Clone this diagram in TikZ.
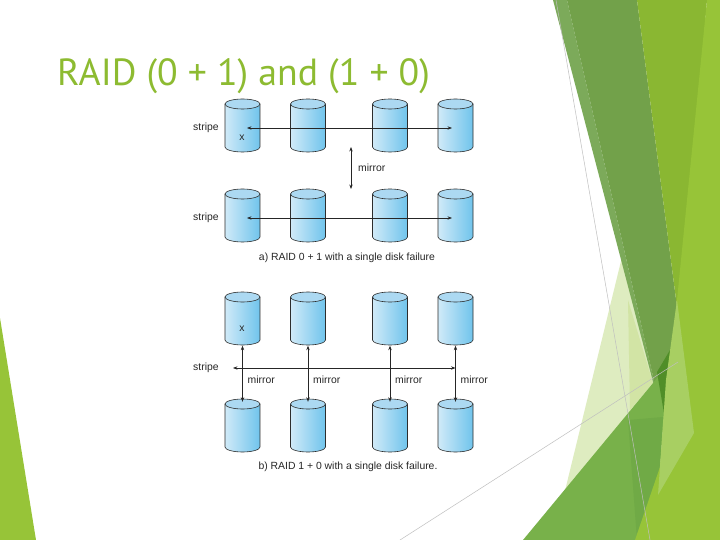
\documentclass[tikz,border=0pt]{standalone}
\usepackage{fontspec}
\setmainfont{Liberation Sans}
\newfontfamily\titlefont{PT Sans}
\usetikzlibrary{arrows.meta}

\definecolor{diskL}{RGB}{208,234,248}
\definecolor{diskR}{RGB}{112,196,236}
\definecolor{diskTop}{RGB}{172,217,242}
\definecolor{diskLine}{RGB}{45,45,45}
\definecolor{titlegreen}{RGB}{141,187,49}
\definecolor{facetDark}{RGB}{114,161,74}
\definecolor{facetStrip}{RGB}{124,170,90}
\definecolor{facetOlive}{RGB}{138,183,50}
\definecolor{facetLime}{RGB}{151,196,56}
\definecolor{facetLight}{RGB}{168,207,98}
\definecolor{facetPale}{RGB}{222,236,192}
\definecolor{facetPale2}{RGB}{210,228,165}
\definecolor{facetMid}{RGB}{120,177,74}
\definecolor{facetMid2}{RGB}{112,170,70}
\definecolor{facetDeep}{RGB}{80,142,40}

\begin{document}
\begin{tikzpicture}[x=1pt,y=-1pt,line cap=round,line join=round,
  disk/.style={minimum width=36,minimum height=54,inner sep=0,
    path picture={
      \begin{scope}[shift={(path picture bounding box.center)}]
        \shade[left color=diskL,right color=diskR] (-17.5,-21.5) -- (-17.5,21.5)
          arc[start angle=180,end angle=0,x radius=17.5,y radius=5] -- (17.5,-21.5) -- cycle;
        \draw[diskLine,line width=0.6pt] (-17.5,-21.5) -- (-17.5,21.5)
          arc[start angle=180,end angle=0,x radius=17.5,y radius=5] -- (17.5,-21.5);
        \filldraw[fill=diskTop,draw=diskLine,line width=0.6pt] (0,-21.5) ellipse[x radius=17.5,y radius=5];
      \end{scope}}},
  lbl/.style={font=\fontsize{10.4}{12}\selectfont,text=black!85,inner sep=0},
  link/.style={line width=0.7pt,draw=black!85,{Stealth[length=4.5pt,width=3.4pt]}-{Stealth[length=4.5pt,width=3.4pt]}}]
\useasboundingbox (0,0) rectangle (720,540);
\fill[white] (0,0) rectangle (720,540);

% facet background
\fill[facetPale] (622,257) -- (668,420) -- (600,540) -- (553,540) -- cycle;
\fill[facetPale2] (628,300) -- (653,383) -- (630,410) -- cycle;
\fill[facetStrip] (553,0) -- (567,0) -- (663,420) -- cycle;
\fill[facetDark] (567,0) -- (637,0) -- (680,330) -- (663,420) -- cycle;
\fill[facetOlive] (637,0) -- (707,0) -- (680,330) -- cycle;
\fill[facetMid] (523,540) -- (668,365) -- (660,467) -- (637,540) -- cycle;
\fill[facetMid2] (628,420) -- (663,417) -- (660,467) -- (645,540) -- (637,540) -- cycle;
\fill[facetDeep] (657,372) -- (676,340) -- (666,425) -- cycle;
\fill[facetLime] (707,0) -- (720,0) -- (720,540) -- (635,540) -- (660,467) -- (677,300) -- cycle;
\fill[facetLight] (677,300) -- (694,433) -- (658,495) -- (666,380) -- cycle;
\fill[facetLime] (0,318) -- (36,540) -- (0,540) -- cycle;
\draw[black!25,line width=0.5pt] (556,0) -- (650,540);
\draw[black!25,line width=0.5pt] (400,540) -- (678,362);

\node[anchor=base west,inner sep=0,text=titlegreen,font=\titlefont\fontsize{37.8}{42}\selectfont] (title) at (57,86) {RAID (0 + 1) and (1 + 0)};

% a) RAID 0 + 1
\foreach \n/\x in {1/242.5,2/308,3/390,4/455.5}{
  \node[disk] (a\n) at (\x,125.5) {};
  \node[disk] (a\the\numexpr\n+4\relax) at (\x,215.5) {};
}
\node[lbl,anchor=west] (sa1) at (193,128) {stripe};
\node[lbl,anchor=west] (sa2) at (193,218) {stripe};
\node[lbl] (xa) at (242,138) {x};
\draw[link] ([xshift=4.5pt,yshift=-2.5pt]a1.center) -- ([xshift=-3.5pt,yshift=-2.5pt]a4.center);
\draw[link] ([xshift=4.5pt,yshift=-2.5pt]a5.center) -- ([xshift=-3.5pt,yshift=-2.5pt]a8.center);
\coordinate (m1) at (351,147);
\coordinate (m2) at (351,189);
\draw[link] (m1) -- (m2);
\node[lbl,anchor=west] (ma) at (358,168) {mirror};
\node[lbl] (capa) at (347,258) {a) RAID 0 + 1 with a single disk failure};

% b) RAID 1 + 0
\foreach \n/\x in {1/242.5,2/308,3/390,4/455.5}{
  \node[disk] (b\n) at (\x,318.5) {};
  \node[disk] (b\the\numexpr\n+4\relax) at (\x,425.5) {};
}
\node[lbl] (xb) at (242,329) {x};
\foreach \n in {1,2,3,4}{
  \draw[link] (b\n.south) -- ([yshift=-3.5pt]b\the\numexpr\n+4\relax.north);
  \node[lbl,anchor=west] (mb\n) at ([xshift=5pt]b\n.south |- 0,380) {mirror};
}
\coordinate (s) at (233,368);
\draw[link] (s) -- (s -| b4.south);
\node[lbl,anchor=west] (sb) at (193,368) {stripe};
\node[lbl] (capb) at (348,467) {b) RAID 1 + 0 with a single disk failure.};
\end{tikzpicture}
\end{document}
